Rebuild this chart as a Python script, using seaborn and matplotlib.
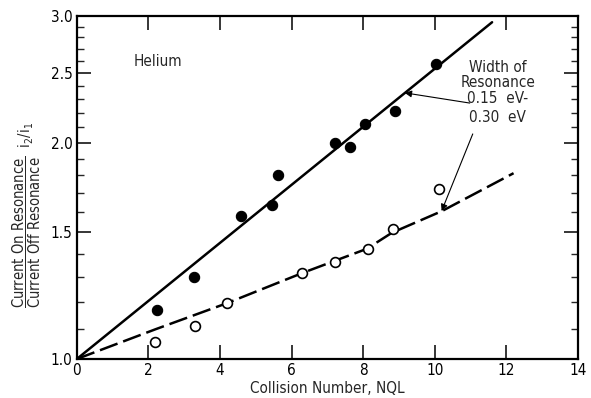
import matplotlib
matplotlib.use("Agg")
import matplotlib.pyplot as plt
import matplotlib.ticker as mticker
from matplotlib import font_manager
import seaborn as sns

# ---- data ----
filled_x = [2.25, 3.27, 4.60, 5.45, 5.62, 7.20, 7.63, 8.04, 8.88, 10.02]
filled_y = [1.17, 1.30, 1.58, 1.635, 1.80, 1.995, 1.97, 2.12, 2.215, 2.575]
open_x = [2.18, 3.31, 4.19, 6.28, 7.21, 8.14, 8.82, 10.12]
open_y = [1.055, 1.113, 1.196, 1.317, 1.363, 1.422, 1.517, 1.722]
solid_x = [0.0, 11.6]
solid_y = [1.0, 2.94]
dash_x = [0.0, 2.2, 4.2, 6.3, 8.1, 8.8, 10.2, 12.2]
dash_y = [1.0, 1.10, 1.196, 1.317, 1.423, 1.498, 1.606, 1.813]
x_ticks = [0, 2, 4, 6, 8, 10, 12, 14]
y_ticks = [1.0, 1.5, 2.0, 2.5, 3.0]
y_minor = [1.1, 1.2, 1.3, 1.4, 1.6, 1.7, 1.8, 1.9, 2.1, 2.2, 2.3, 2.4, 2.6, 2.7, 2.8, 2.9]

sns.set_theme(style="ticks")
names = {f.name for f in font_manager.fontManager.ttflist}
fam = "Liberation Sans Narrow" if "Liberation Sans Narrow" in names else "DejaVu Sans"
plt.rcParams["font.family"] = [fam, "DejaVu Sans"]
plt.rcParams["font.stretch"] = "condensed"
plt.rcParams["mathtext.fontset"] = "custom"
plt.rcParams["mathtext.rm"] = f"{fam}:stretch=condensed"
plt.rcParams["mathtext.it"] = f"{fam}:stretch=condensed"

fig = plt.figure(figsize=(5.91, 3.98), dpi=100)
ax = fig.add_axes([0.130, 0.098, 0.848, 0.862])

lw = 1.8
sns.lineplot(x=solid_x, y=solid_y, ax=ax, color="black", lw=lw, sort=False)
ld = sns.lineplot(x=dash_x, y=dash_y, ax=ax, color="black", lw=lw, sort=False)
ld.lines[-1].set_dashes([7.5, 2.4])
sns.scatterplot(x=filled_x, y=filled_y, ax=ax, color="black", s=55,
                edgecolor="black", linewidth=0.8, zorder=5)
sns.scatterplot(x=open_x, y=open_y, ax=ax, facecolor="white", s=50,
                edgecolor="black", linewidth=1.2, zorder=5)

ax.set_yscale("log")
ax.set_xlim(0, 14)
ax.set_ylim(1.0, 3.0)
ax.set_xticks(x_ticks)
ax.set_xticklabels([str(v) for v in x_ticks])
ax.yaxis.set_major_locator(mticker.FixedLocator(y_ticks))
ax.yaxis.set_major_formatter(mticker.FixedFormatter([f"{v:.1f}" for v in y_ticks]))
ax.yaxis.set_minor_locator(mticker.FixedLocator(y_minor))
ax.yaxis.set_minor_formatter(mticker.NullFormatter())

ax.tick_params(which="major", direction="in", length=10, width=1.1,
               top=True, right=True, labelsize=11, pad=3, colors="black")
ax.tick_params(which="minor", direction="in", length=5, width=1.0,
               top=False, right=True, left=True)
ax.tick_params(axis="x", which="minor", bottom=False, top=False)
for sp in ax.spines.values():
    sp.set_visible(True)
    sp.set_linewidth(1.6)
    sp.set_color("black")

ax.set_xlabel("Collision Number, NQL", fontsize=11, labelpad=2)
ax.set_ylabel(r"$\dfrac{\mathrm{Current\ On\ Resonance}}{\mathrm{Current\ Off\ Resonance}}\ \ \mathrm{i}_{2}/\mathrm{i}_{1}$",
              fontsize=10.5)
ax.yaxis.set_label_coords(-0.068, 0.42)

ax.text(0.162, 0.866, "Helium", transform=ax.transAxes, fontsize=11,
        ha="center", va="center")
ax.text(0.840, 0.851, "Width of", transform=ax.transAxes, fontsize=11,
        ha="center", va="center")
ax.text(0.840, 0.805, "Resonance", transform=ax.transAxes, fontsize=11,
        ha="center", va="center")
ax.text(0.840, 0.758, "0.15  eV-", transform=ax.transAxes, fontsize=11,
        ha="center", va="center")
ax.text(0.840, 0.703, "0.30  eV", transform=ax.transAxes, fontsize=11,
        ha="center", va="center")

arrow = dict(arrowstyle="-|>", color="black", lw=0.8, mutation_scale=10,
             shrinkA=0, shrinkB=0)
ax.annotate("", xy=(9.16, 2.345), xycoords="data",
            xytext=(0.784, 0.746), textcoords="axes fraction", arrowprops=arrow)
ax.annotate("", xy=(10.19, 1.606), xycoords="data",
            xytext=(0.790, 0.656), textcoords="axes fraction", arrowprops=arrow)

fig.savefig("out.png", dpi=100)
